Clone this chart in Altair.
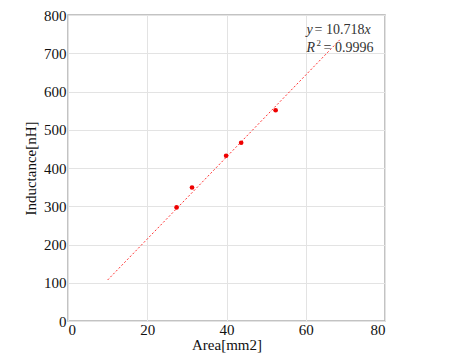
import altair as alt
import pandas as pd

area = [27.4, 31.3, 39.9, 43.7, 52.4]
inductance = [297, 349, 432, 466, 551]
fit_x = [10, 68.8]
slope = 10.718
fit_y = [slope * v for v in fit_x]
x_ticks = [0, 20, 40, 60, 80]
y_ticks = [0, 100, 200, 300, 400, 500, 600, 700, 800]
ann_x = [60.2]
ann_y1 = [762]
ann_y2 = [715]

fit = pd.DataFrame({"Area": fit_x, "L": fit_y})
pts = pd.DataFrame({"Area": area, "L": inductance})
ann1 = pd.DataFrame({"Area": ann_x, "L": ann_y1})
ann2 = pd.DataFrame({"Area": ann_x, "L": ann_y2})

font = "Liberation Serif"
xs = alt.Scale(domain=[0, 80], nice=False)
ys = alt.Scale(domain=[0, 800], nice=False)

common = dict(grid=True, ticks=False, labelOverlap=False, domain=False,
              labelFont=font, labelFontSize=15, titleFont=font, titleFontSize=15,
              titleFontWeight="normal", labelColor="#111", titleColor="#111",
              gridColor="#e3e3e3")
xax = alt.Axis(values=x_ticks, title="Area[mm2]", labelPadding=1, titlePadding=0, **common)
yax = alt.Axis(values=y_ticks, title="Inductance[nH]", labelPadding=2, titlePadding=5, **common)

X = alt.X("Area:Q", scale=xs, axis=xax)
Y = alt.Y("L:Q", scale=ys, axis=yax)

line = alt.Chart(fit).mark_line(color="#ff3333", strokeDash=[2, 2], strokeWidth=1).encode(x=X, y=Y)
points = alt.Chart(pts).mark_circle(color="#ee0000", size=22, opacity=1).encode(x=X, y=Y)

def txt(df, s, dx, italic, size=14, dy=0):
    return alt.Chart(df).mark_text(font=font, fontSize=size, align="left", color="#333",
                                   fontStyle="italic" if italic else "normal",
                                   dx=dx, dy=dy).encode(x=X, y=Y, text=alt.value(s))

texts = [
    txt(ann1, "y", 0, True),
    txt(ann1, "= 10.718", 8, False),
    txt(ann1, "x", 58, True),
    txt(ann2, "R", 0, True),
    txt(ann2, "2", 10, False, size=9, dy=-5),
    txt(ann2, "= 0.9996", 17, False),
]

chart = alt.layer(line, points, *texts).properties(
    width=317, height=306,
    autosize=alt.AutoSizeParams(type="none"),
    padding={"left": 60, "top": 7, "right": 10, "bottom": 40},
).configure(font=font).configure_view(stroke="#b0b0b0", strokeWidth=1.5).configure_axis(
    labelFont=font, titleFont=font)

chart.save("out.html", embed_options={"renderer": "svg", "actions": False})
